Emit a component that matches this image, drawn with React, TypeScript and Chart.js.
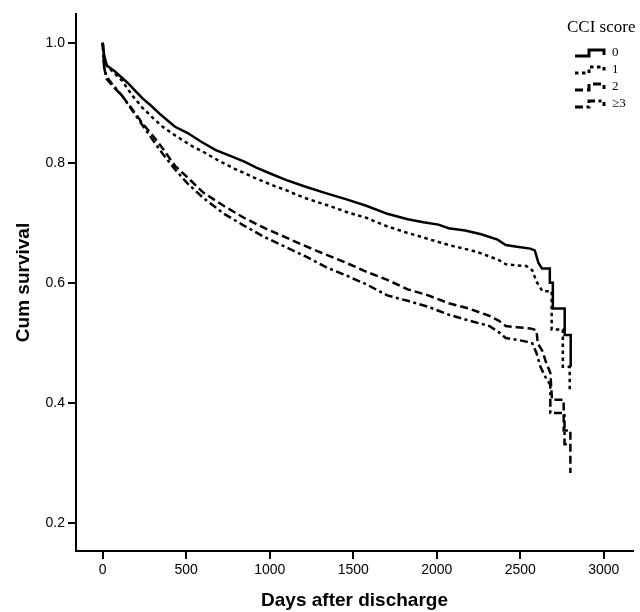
import React, { useEffect, useRef } from "react";
import { Chart, registerables } from "chart.js";

Chart.register(...registerables);

// CCI score 0 (solid)
const days0 = [0, 8, 24, 45, 70, 110, 150, 195, 240, 290, 340, 390, 433, 506, 590, 677, 760, 848, 920, 995, 1100, 1215, 1340, 1460, 1582, 1704, 1826, 1920, 2010, 2071, 2170, 2266, 2364, 2413, 2480, 2560, 2587, 2609, 2630, 2677, 2677, 2695, 2695, 2766, 2766, 2802, 2802];
const surv0 = [1.0, 0.98, 0.962, 0.958, 0.953, 0.943, 0.933, 0.92, 0.907, 0.895, 0.882, 0.87, 0.86, 0.85, 0.835, 0.821, 0.812, 0.802, 0.792, 0.783, 0.771, 0.76, 0.749, 0.739, 0.728, 0.715, 0.706, 0.701, 0.697, 0.691, 0.687, 0.681, 0.672, 0.663, 0.66, 0.657, 0.654, 0.633, 0.624, 0.624, 0.6, 0.6, 0.557, 0.557, 0.513, 0.513, 0.46];

// CCI score 1 (dotted)
const days1 = [0, 8, 24, 60, 115, 175, 237, 300, 359, 420, 482, 540, 604, 665, 726, 790, 848, 910, 970, 1030, 1093, 1150, 1215, 1280, 1337, 1400, 1460, 1520, 1582, 1640, 1704, 1760, 1826, 1890, 1949, 2010, 2071, 2130, 2193, 2255, 2315, 2370, 2413, 2480, 2536, 2572, 2597, 2633, 2688, 2688, 2755, 2755, 2796, 2796];
const surv1 = [1.0, 0.978, 0.962, 0.952, 0.937, 0.913, 0.892, 0.875, 0.86, 0.848, 0.837, 0.827, 0.818, 0.808, 0.799, 0.79, 0.783, 0.775, 0.768, 0.761, 0.755, 0.748, 0.741, 0.735, 0.73, 0.724, 0.718, 0.713, 0.708, 0.701, 0.694, 0.689, 0.683, 0.678, 0.673, 0.668, 0.663, 0.659, 0.655, 0.65, 0.644, 0.638, 0.631, 0.629, 0.628, 0.621, 0.602, 0.586, 0.586, 0.522, 0.522, 0.46, 0.46, 0.42];

// CCI score 2 (dashed)
const days2 = [0, 8, 22, 60, 115, 175, 237, 300, 359, 433, 506, 604, 726, 848, 970, 1093, 1215, 1337, 1460, 1582, 1704, 1826, 1949, 2071, 2193, 2315, 2370, 2413, 2480, 2560, 2597, 2605, 2633, 2656, 2680, 2690, 2760, 2760, 2800, 2800];
const surv2 = [1.0, 0.96, 0.94, 0.928, 0.912, 0.89, 0.866, 0.845, 0.824, 0.795, 0.776, 0.75, 0.728, 0.708, 0.691, 0.676, 0.661, 0.647, 0.633, 0.618, 0.605, 0.589, 0.579, 0.566, 0.557, 0.545, 0.537, 0.528, 0.526, 0.524, 0.521, 0.499, 0.486, 0.466, 0.45, 0.405, 0.405, 0.354, 0.354, 0.283];

// CCI score >=3 (dash-dot)
const days3 = [0, 8, 22, 60, 115, 175, 237, 300, 359, 433, 506, 604, 726, 848, 970, 1093, 1215, 1337, 1460, 1582, 1704, 1826, 1949, 2071, 2193, 2315, 2370, 2413, 2480, 2536, 2572, 2597, 2621, 2656, 2680, 2680, 2765, 2765, 2800];
const surv3 = [1.0, 0.96, 0.944, 0.93, 0.912, 0.888, 0.863, 0.838, 0.815, 0.789, 0.766, 0.741, 0.715, 0.695, 0.676, 0.66, 0.644, 0.626, 0.612, 0.597, 0.579, 0.57, 0.56, 0.547, 0.537, 0.528, 0.518, 0.508, 0.505, 0.502, 0.499, 0.483, 0.46, 0.44, 0.43, 0.383, 0.383, 0.331, 0.331];

const seriesLabels = ["0", "1", "2", "\u22653"];
const seriesDashes: number[][] = [[], [3.5, 3.5], [8, 4], [8, 3.5, 3, 3.5]];
const xTicks = [0, 500, 1000, 1500, 2000, 2500, 3000];
const yTicks = [0.2, 0.4, 0.6, 0.8, 1.0];
const legendTitle = "CCI score";
const xTitle = "Days after discharge";
const yTitle = "Cum survival";

const allDays = [days0, days1, days2, days3];
const allSurv = [surv0, surv1, surv2, surv3];

const legendPlugin = {
  id: "cciLegend",
  afterDraw(chart: any) {
    const ctx = chart.ctx as CanvasRenderingContext2D;
    ctx.save();
    ctx.fillStyle = "#000";
    ctx.textBaseline = "middle";
    ctx.textAlign = "left";
    ctx.font = "17px 'Liberation Serif', 'Times New Roman', serif";
    ctx.fillText(legendTitle, 567, 28);
    const rowY = [53, 70, 87, 104];
    ctx.font = "13px 'Liberation Serif', 'Times New Roman', serif";
    seriesLabels.forEach((lab, i) => {
      const y = rowY[i];
      ctx.strokeStyle = "#000";
      ctx.lineWidth = 3;
      ctx.setLineDash(seriesDashes[i]);
      ctx.beginPath();
      ctx.moveTo(575, y + 3);
      ctx.lineTo(589, y + 3);
      ctx.lineTo(589, y - 3);
      ctx.lineTo(604, y - 3);
      ctx.lineTo(604, y + 2);
      ctx.stroke();
      ctx.setLineDash([]);
      ctx.fillText(lab, 612, y);
    });
    ctx.restore();
  },
};

export default function App() {
  const ref = useRef<HTMLCanvasElement | null>(null);
  useEffect(() => {
    if (!ref.current) return;
    const datasets = allDays.map((d, i) => ({
      label: seriesLabels[i],
      data: d.map((x, j) => ({ x, y: allSurv[i][j] })),
      borderColor: "#000",
      borderWidth: 2.5,
      borderDash: seriesDashes[i],
      pointRadius: 0,
      tension: 0,
      fill: false,
      borderJoinStyle: "miter" as const,
    }));
    const tickFont = { family: "'Liberation Sans', Arial, sans-serif", size: 14 };
    const titleFont = { family: "'Liberation Sans', Arial, sans-serif", size: 19, weight: "bold" as const };
    const chart = new Chart(ref.current, {
      type: "line",
      data: { datasets },
      options: {
        animation: false,
        responsive: false,
        maintainAspectRatio: false,
        layout: { padding: { left: 0, right: 7, top: 14, bottom: 0 } },
        plugins: { legend: { display: false }, tooltip: { enabled: false } },
        scales: {
          x: {
            type: "linear",
            min: -160,
            max: 3175,
            afterFit: (s: any) => { s.height = 61; },
            afterBuildTicks: (s: any) => { s.ticks = xTicks.map((v) => ({ value: v })); },
            ticks: { font: tickFont, color: "#000", padding: 3, maxRotation: 0, autoSkip: false, callback: (v: any) => String(v) },
            grid: { display: true, drawOnChartArea: false, drawTicks: true, tickLength: 8, color: "#000", lineWidth: 2 },
            border: { display: true, color: "#000", width: 2 },
            title: { display: true, text: xTitle, font: titleFont, color: "#000", padding: { top: 0, bottom: 0 } },
          },
          y: {
            type: "linear",
            min: 0.153,
            max: 1.048,
            afterFit: (s: any) => { s.width = 76; },
            afterBuildTicks: (s: any) => { s.ticks = yTicks.map((v) => ({ value: v })); },
            ticks: { font: tickFont, color: "#000", padding: 3, callback: (v: any) => Number(v).toFixed(1) },
            grid: { display: true, drawOnChartArea: false, drawTicks: true, tickLength: 8, color: "#000", lineWidth: 2 },
            border: { display: true, color: "#000", width: 2 },
            title: { display: true, text: yTitle, font: titleFont, color: "#000", padding: { top: 12, bottom: 0 } },
          },
        },
      },
      plugins: [legendPlugin],
    });
    return () => chart.destroy();
  }, []);
  return (
    <div style={{ position: "fixed", left: 0, top: 0, width: 640, height: 612, background: "#fff" }}>
      <canvas ref={ref} width={640} height={612} style={{ width: 640, height: 612, display: "block" }} />
    </div>
  );
}
